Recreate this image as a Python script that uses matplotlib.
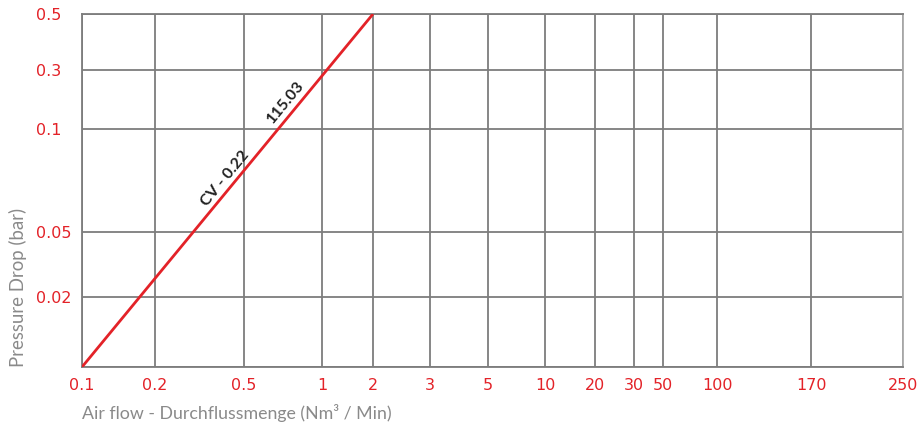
import numpy as np
import matplotlib
matplotlib.use('Agg')
import matplotlib.pyplot as plt

# data
x_ticks = [0.1, 0.2, 0.5, 1, 2, 3, 5, 10, 20, 30, 50, 100, 170, 250]
x_labels = ['0.1', '0.2', '0.5', '1', '2', '3', '5', '10', '20', '30', '50', '100', '170', '250']
y_ticks = [0.01, 0.02, 0.05, 0.1, 0.3, 0.5]
y_labels = ['', '0.02', '0.05', '0.1', '0.3', '0.5']
line_x = [0.1, 2]
line_y = [0.01, 0.5]

# chart grid is not uniform: pixel spacing of the printed sheet
x_pix = np.array([82, 155, 244, 322, 373, 430, 488, 545, 595, 634, 663, 717, 811, 903], float)
y_pix = np.array([367, 297, 232, 129, 70, 14], float)
y_pix = 367 - y_pix

lx = np.log10(x_ticks)
ly = np.log10(y_ticks)

def fx(v):
    v = np.clip(np.asarray(v, float), 1e-6, None)
    return np.interp(np.log10(v), lx, x_pix)

def ix(p):
    return 10 ** np.interp(p, x_pix, lx)

def fy(v):
    v = np.clip(np.asarray(v, float), 1e-6, None)
    return np.interp(np.log10(v), ly, y_pix)

def iy(p):
    return 10 ** np.interp(p, y_pix, ly)


red = '#e32228'
grey = '#7d7d7d'
plt.rcParams['font.family'] = ['Lato', 'DejaVu Sans']

fig = plt.figure(figsize=(9.17, 4.25), dpi=100)
ax = fig.add_axes([82/917, (425-367)/425, (903-82)/917, (367-14)/425])

ax.set_xscale('function', functions=(fx, ix))
ax.set_yscale('function', functions=(fy, iy))
ax.set_xlim(0.1, 250)
ax.set_ylim(0.01, 0.5)

ax.plot(line_x, line_y, color=red, linewidth=2, solid_capstyle='butt', zorder=3)

ax.set_xticks(x_ticks)
ax.set_xticklabels(x_labels)
ax.set_yticks(y_ticks)
ax.set_yticklabels(y_labels)
ax.minorticks_off()
ax.tick_params(axis='both', length=0, labelcolor=red, labelsize=11.5,
               labelfontfamily='DejaVu Sans')
ax.tick_params(axis='x', pad=8)
ax.tick_params(axis='y', pad=33)
for t in ax.get_yticklabels():
    t.set_ha('left')

ax.grid(True, color=grey, linewidth=1.3)
for s in ax.spines.values():
    s.set_color(grey)
    s.set_linewidth(1.3)
ax.spines['right'].set_color('#aaaaaa')

ax.text(0.174, 0.535, 'CV - 0.22', transform=ax.transAxes, rotation=50.5,
        ha='center', va='center', fontsize=11.5, fontweight='bold', color='#222222',
        rotation_mode='anchor')
ax.text(0.248, 0.751, '115.03', transform=ax.transAxes, rotation=50.5,
        ha='center', va='center', fontsize=11.5, fontweight='bold', color='#222222',
        rotation_mode='anchor')

fig.text(82/917, (425-413)/425, 'Air flow - Durchflussmenge (Nm³ / Min)',
         color='#8a8a8a', fontsize=12.8, ha='left', va='center')
fig.text(18/917, (425-367)/425, 'Pressure Drop (bar)', color='#8a8a8a',
         fontsize=13.4, rotation=90, ha='center', va='bottom')

plt.savefig('out.png', dpi=100)
